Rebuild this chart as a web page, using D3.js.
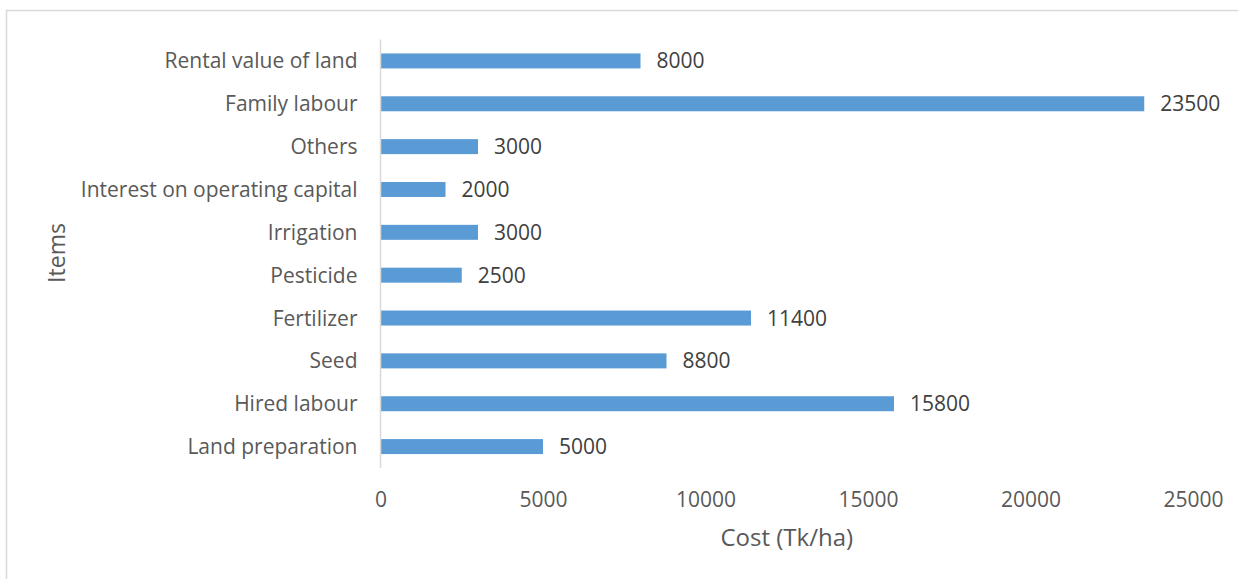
<!DOCTYPE html>
<html>
<head>
<meta charset="utf-8">
<script src="https://cdn.jsdelivr.net/npm/d3@7"></script>
<style>
  html, body { margin: 0; padding: 0; background: #fff; }
  svg { display: block; font-family: "Open Sans", "Liberation Sans", sans-serif; }
</style>
</head>
<body>
<svg id="chart" width="1238" height="579"></svg>
<script>
// Cost items (bottom to top as drawn) and their costs in Tk/ha
const items = ["Land preparation", "Hired labour", "Seed ", "Fertilizer", "Pesticide",
               "Irrigation", "Interest on operating capital", "Others", "Family labour",
               "Rental value of land"];
const costs = [5000, 15800, 8800, 11400, 2500, 3000, 2000, 3000, 23500, 8000];
const xTicks = [0, 5000, 10000, 15000, 20000, 25000];
const xTitle = "Cost (Tk/ha)";
const yTitle = "Items";

const svg = d3.select("#chart");
const W = 1238, H = 579;

// chart frame
svg.append("rect")
  .attr("x", 6.5).attr("y", 10.5)
  .attr("width", W + 20).attr("height", H + 20)
  .attr("fill", "#fff").attr("stroke", "#d9d9d9").attr("stroke-width", 1.5);

const plot = { left: 380.5, right: 1193, top: 39.5, bottom: 468 };

const x = d3.scaleLinear().domain([0, 25000]).range([plot.left, plot.right]);
const y = d3.scaleBand()
  .domain(items.slice().reverse())
  .range([plot.top, plot.bottom])
  .paddingInner(0.65).paddingOuter(0.325);

const data = items.map((d, i) => ({ item: d, cost: costs[i] }));

// bars
svg.append("g").selectAll("rect").data(data).join("rect")
  .attr("x", x(0))
  .attr("y", d => y(d.item))
  .attr("width", d => x(d.cost) - x(0))
  .attr("height", y.bandwidth())
  .attr("fill", "#5b9bd5");

// vertical category axis line
svg.append("line")
  .attr("x1", plot.left).attr("x2", plot.left)
  .attr("y1", plot.top).attr("y2", plot.bottom)
  .attr("stroke", "#d9d9d9").attr("stroke-width", 1.5);

// category labels
svg.append("g").selectAll("text").data(data).join("text")
  .attr("x", plot.left - 23)
  .attr("y", d => y(d.item) + y.bandwidth() / 2 + 7.5)
  .attr("text-anchor", "end")
  .attr("font-size", 21)
  .attr("fill", "#595959")
  .text(d => d.item);

// value labels
svg.append("g").selectAll("text").data(data).join("text")
  .attr("x", d => x(d.cost) + 16)
  .attr("y", d => y(d.item) + y.bandwidth() / 2 + 7.5)
  .attr("font-size", 21)
  .attr("fill", "#404040")
  .text(d => d.cost);

// value axis tick labels
const xAxis = d3.axisBottom(x).tickValues(xTicks).tickSize(0).tickPadding(0)
  .tickFormat(d3.format("d"));
const gx = svg.append("g").attr("transform", `translate(0, 507)`).call(xAxis);
gx.select(".domain").remove();
gx.selectAll("text")
  .attr("dy", 0).attr("y", 0)
  .attr("font-size", 21)
  .attr("font-family", "\"Open Sans\", \"Liberation Sans\", sans-serif")
  .attr("fill", "#595959");

// axis titles
svg.append("text")
  .attr("x", (plot.left + plot.right) / 2)
  .attr("y", 546)
  .attr("text-anchor", "middle")
  .attr("font-size", 24)
  .attr("fill", "#595959")
  .text(xTitle);

svg.append("text")
  .attr("transform", `translate(65, 253) rotate(-90)`)
  .attr("text-anchor", "middle")
  .attr("font-size", 23)
  .attr("fill", "#595959")
  .text(yTitle);
</script>
</body>
</html>
